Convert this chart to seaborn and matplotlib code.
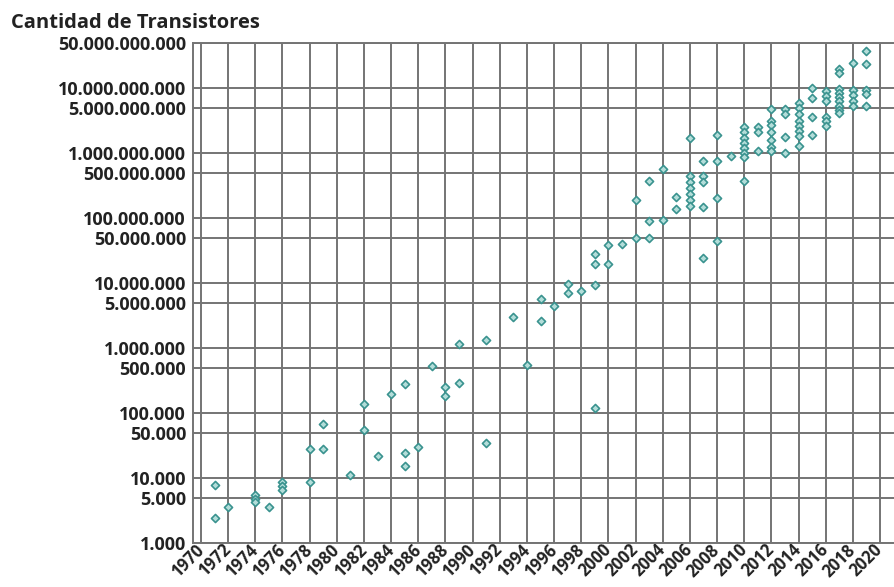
#importing packages
import pandas as pd
import seaborn as sns
import matplotlib.pyplot as plt
from matplotlib.ticker import FuncFormatter, NullLocator

#data (year, transistor count)
years = [1971, 1971, 1972, 1974, 1974, 1974, 1975, 1976, 1976, 1976,
         1978, 1978, 1979, 1979, 1981, 1982, 1982, 1983, 1984, 1985, 1985, 1985,
         1986, 1987, 1988, 1988, 1989, 1989, 1991, 1991, 1993, 1994, 1995, 1995,
         1996, 1997, 1997, 1998, 1999, 1999, 1999, 1999, 2000, 2000, 2001,
         2002, 2002, 2003, 2003, 2003, 2004, 2004, 2005, 2005,
         2006, 2006, 2006, 2006, 2006, 2006, 2006,
         2007, 2007, 2007, 2007, 2007, 2008, 2008, 2008, 2008, 2009,
         2010, 2010, 2010, 2010, 2010, 2010, 2010, 2010,
         2011, 2011, 2011,
         2012, 2012, 2012, 2012, 2012, 2012, 2012,
         2013, 2013, 2013, 2013,
         2014, 2014, 2014, 2014, 2014, 2014, 2014, 2014,
         2015, 2015, 2015, 2015,
         2016, 2016, 2016, 2016, 2016, 2016,
         2017, 2017, 2017, 2017, 2017, 2017, 2017, 2017, 2017,
         2018, 2018, 2018, 2018, 2018,
         2019, 2019, 2019, 2019, 2019]
transistors = [7900, 2400, 3600, 5500, 4800, 4300, 3600, 8700, 7600, 6600,
               8800, 28500, 69000, 28500, 11000, 136000, 55000, 22000, 194000, 282000, 24500, 15500,
               30000, 530000, 250000, 182000, 1180000, 295000, 1320000, 35000, 3000000, 550000, 5800000, 2600000,
               4400000, 9600000, 7000000, 7600000, 9300000, 28000000, 20000000, 118000, 39000000, 20000000, 40000000,
               190e6, 49e6, 380e6, 90e6, 49e6, 570e6, 93e6, 215e6, 140e6,
               1.7e9, 445e6, 357e6, 293e6, 235e6, 190e6, 154e6,
               760e6, 445e6, 365e6, 150e6, 24.5e6, 1.9e9, 760e6, 205e6, 44e6, 910e6,
               2.5e9, 2.1e9, 1.75e9, 1.45e9, 1.2e9, 1.02e9, 890e6, 380e6,
               2.5e9, 2.1e9, 1.1e9,
               4.9e9, 3.2e9, 2.7e9, 2.1e9, 1.6e9, 1.25e9, 1.1e9,
               4.9e9, 4.1e9, 1.8e9, 1.0e9,
               6.0e9, 5.0e9, 4.1e9, 3.2e9, 2.6e9, 2.2e9, 1.85e9, 1.3e9,
               10e9, 7.0e9, 3.6e9, 1.95e9,
               9.1e9, 7.6e9, 6.3e9, 3.6e9, 3.1e9, 2.6e9,
               20e9, 17.4e9, 9.9e9, 8.6e9, 7.4e9, 6.3e9, 5.4e9, 4.7e9, 4.2e9,
               24.5e9, 9.3e9, 7.8e9, 6.3e9, 5.4e9,
               37e9, 24e9, 9.6e9, 8.3e9, 5.4e9]

y_ticks = [1e3, 5e3, 1e4, 5e4, 1e5, 5e5, 1e6, 5e6, 1e7, 5e7,
           1e8, 5e8, 1e9, 5e9, 1e10, 5e10]
x_ticks = list(range(1970, 2021, 2))

df = pd.DataFrame({'year': years, 'transistors': transistors})

sns.set_theme(style='white')
plt.rcParams['font.family'] = ['Open Sans', 'DejaVu Sans']

fig = plt.figure(figsize=(8.94, 5.87), dpi=100)
ax = fig.add_axes([193/894, 44/587, 701/894, 500/587])

sns.scatterplot(
    data=df,
    x='year',
    y='transistors',
    marker='D',
    s=17,
    color='#b3ddd9',
    edgecolor='#3a938f',
    linewidth=1.2,
    ax=ax,
    zorder=3
)

ax.set_yscale('log')
ax.set_ylim(1e3, 5e10)
ax.set_xlim(1969.41, 2021.03)
ax.set_yticks(y_ticks)
ax.yaxis.set_minor_locator(NullLocator())
ax.yaxis.set_major_formatter(FuncFormatter(lambda v, p: f"{int(round(v)):,}".replace(',', '.')))
ax.set_xticks(x_ticks)
ax.set_xlabel('')
ax.set_ylabel('')

ax.grid(True, color='#747474', linewidth=1.4)
for side in ['left', 'bottom', 'top']:
    ax.spines[side].set_color('#747474')
    ax.spines[side].set_linewidth(1.4)
ax.spines['right'].set_visible(False)

ax.tick_params(axis='both', length=0, colors='#222222')
ax.tick_params(axis='y', labelsize=13, pad=5)
ax.tick_params(axis='x', labelsize=12, pad=3)
for lbl in ax.get_yticklabels():
    lbl.set_fontweight('bold')
for lbl in ax.get_xticklabels():
    lbl.set_fontweight('bold')
    lbl.set_rotation(45)
    lbl.set_ha('right')
    lbl.set_va('center')
    lbl.set_rotation_mode('anchor')

fig.text(0.012, 0.978, 'Cantidad de Transistores', fontsize=14.5,
         fontweight='bold', color='#222222', va='top', ha='left')

plt.savefig('out.png', dpi=100)
